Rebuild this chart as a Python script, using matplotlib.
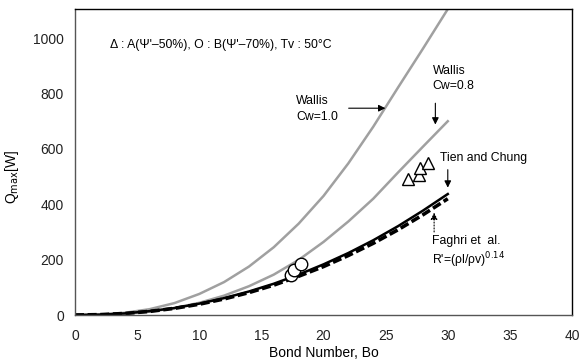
import matplotlib.pyplot as plt

plt.rcParams['font.family'] = ['Liberation Sans', 'DejaVu Sans']

# Bond number grid for the model curves
bo = [0, 2, 4, 6, 8, 10, 12, 14, 16, 18, 20, 22, 24, 26, 28, 30]

# Q_max [W] predicted by each correlation
wallis_10 = [0, 1.4, 7.9, 21, 43, 76, 119, 175, 245, 330, 430, 548, 680, 822, 962, 1105]
wallis_08 = [0, 0.8, 4.5, 12, 25, 44, 70, 104, 146, 199, 264, 338, 420, 515, 608, 700]
tien_chung = [0, 1.3, 5.7, 14, 25, 41, 61, 85, 113, 146, 183, 224, 270, 321, 377, 437]
faghri = [0, 1.3, 5.5, 13, 24, 39, 58, 81, 108, 140, 175, 215, 259, 308, 362, 420]

# measured points
tri_bo = [26.8, 27.7, 27.8, 28.4]
tri_q = [491, 505, 530, 549]
circ_bo = [17.4, 17.6, 18.2]
circ_q = [145, 162, 184]

fig = plt.figure(figsize=(5.79, 3.64), dpi=100)
ax = fig.add_axes([0.1295, 0.1346, 0.8585, 0.8404])

ax.plot(bo, wallis_10, color='#a0a0a0', lw=1.8)
ax.plot(bo, wallis_08, color='#a0a0a0', lw=1.8)
ax.plot(bo, tien_chung, color='black', lw=1.8)
ax.plot(bo, faghri, color='black', lw=2.6, ls=(0, (2.5, 1)))

ax.plot(tri_bo, tri_q, ls='none', marker='^', ms=8, mfc='white', mec='black', mew=1)
ax.plot(circ_bo, circ_q, ls='none', marker='o', ms=9, mfc='white', mec='black', mew=1)

ax.set_xlim(0, 40)
ax.set_ylim(0, 1105)
ax.set_xticks(range(0, 41, 5))
ax.set_yticks(range(0, 1001, 200))
ax.tick_params(length=0, labelsize=10, colors='#222222')
ax.tick_params(axis='x', pad=10)
ax.tick_params(axis='y', pad=8)
for s in ['left', 'bottom']:
    ax.spines[s].set_color('#555555')
for s in ax.spines.values():
    s.set_linewidth(1)

ax.set_xlabel('Bond Number, Bo', fontsize=10, labelpad=2)
ax.set_ylabel(r'Q$_{\rm max}$[W]', fontsize=10, labelpad=6)
ax.yaxis.set_label_coords(-0.108, 0.45)

ax.text(2.8, 975, "Δ : A(Ψ'–50%), O : B(Ψ'–70%), Tv : 50°C", fontsize=8.8, va='center')

ax.text(17.8, 745, 'Wallis\nCw=1.0', fontsize=8.8, va='center', linespacing=1.45)
ax.annotate('', xy=(25.2, 747), xytext=(21.8, 747),
            arrowprops=dict(arrowstyle='-|>', color='black', lw=0.8, mutation_scale=10))

ax.text(28.8, 855, 'Wallis\nCw=0.8', fontsize=8.8, va='center', linespacing=1.35)
ax.annotate('', xy=(29.0, 678), xytext=(29.0, 775),
            arrowprops=dict(arrowstyle='-|>', color='black', lw=0.8, mutation_scale=10))

ax.text(29.4, 567, 'Tien and Chung', fontsize=8.8, va='center')
ax.annotate('', xy=(30.0, 450), xytext=(30.0, 535),
            arrowprops=dict(arrowstyle='-|>', color='black', lw=0.8, mutation_scale=10))

ax.text(28.7, 268, 'Faghri et  al.', fontsize=8.8, va='center')
ax.text(28.7, 198, r"R'=(ρl/ρv)$^{0.14}$", fontsize=8.8, va='center')
ax.annotate('', xy=(28.9, 380), xytext=(28.9, 290),
            arrowprops=dict(arrowstyle='-|>', color='black', lw=0.8, ls=':',
                            mutation_scale=10))

fig.savefig('out.png', dpi=100)
